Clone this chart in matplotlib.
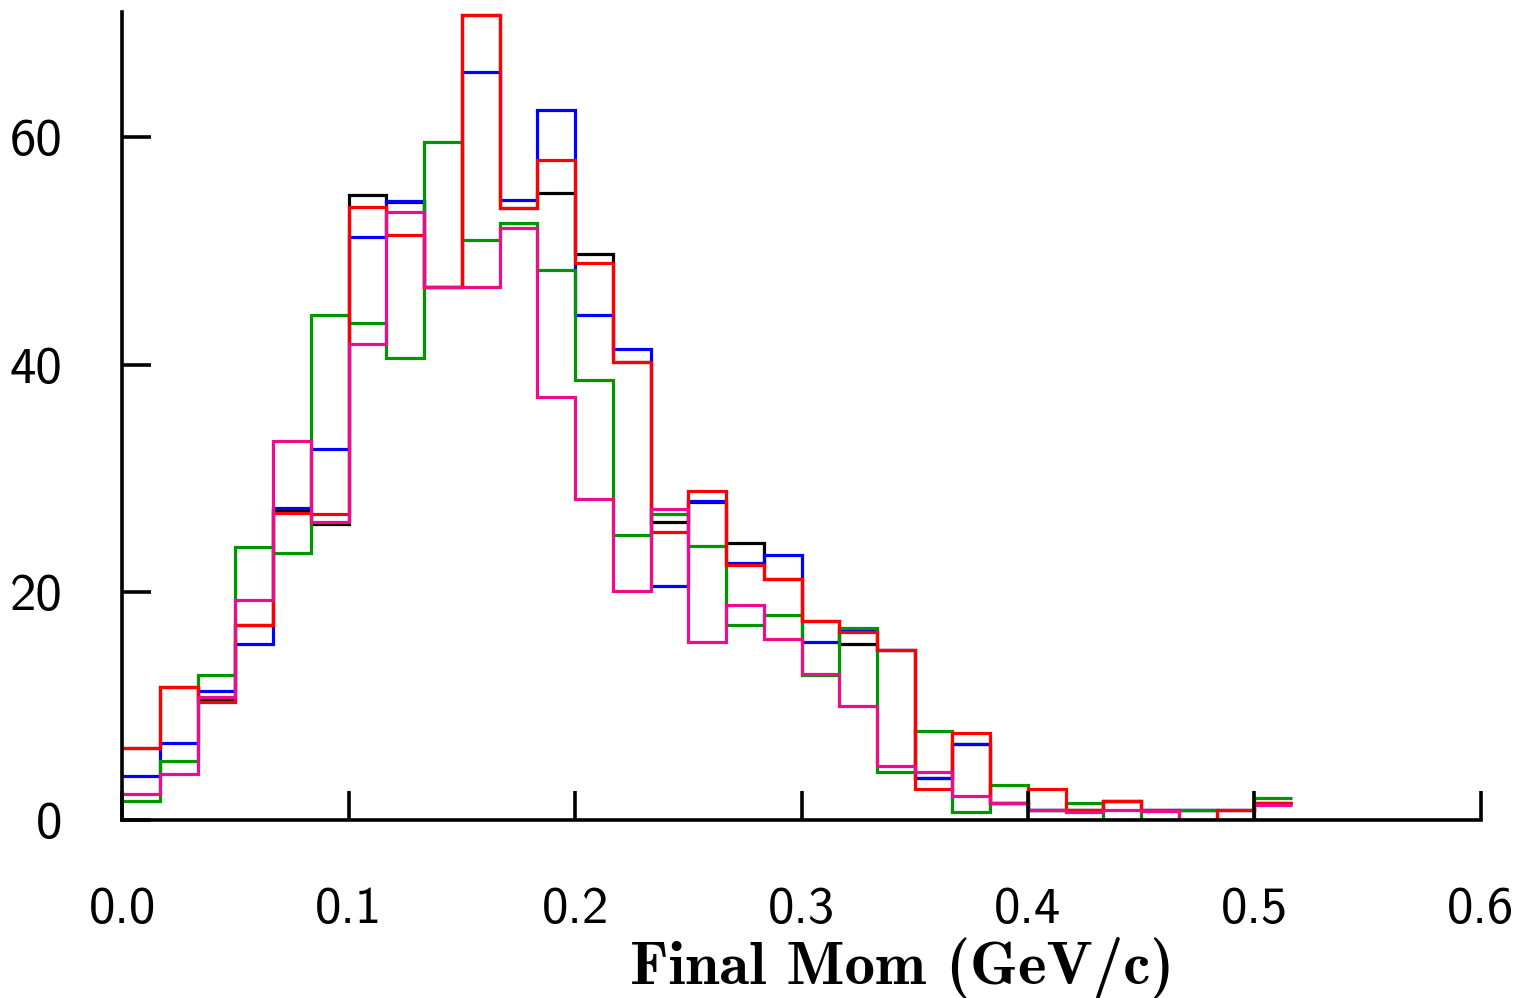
import os
import numpy as np
import matplotlib as mpl
mpl.use('agg')
import matplotlib.pyplot as plt
from matplotlib.font_manager import FontProperties

ttf_dir = os.path.join(mpl.get_data_path(), 'fonts', 'ttf')
sans_font = FontProperties(fname=os.path.join(ttf_dir, 'cmss10.ttf'), size=38)
bold_font = FontProperties(fname=os.path.join(ttf_dir, 'cmb10.ttf'), size=44)

# bins: 31 bins of width 1/60 GeV/c, starting at 0
n_bins = 31
bin_width = 1.0 / 60
edges = np.arange(n_bins + 1) * bin_width

black = [6.3, 11.7, 10.6, 17.1, 27.2, 26.0, 54.9, 54.3, 46.8, 70.7, 53.8,
         55.1, 49.7, 40.2, 26.2, 27.9, 24.3, 21.2, 17.5, 15.5, 14.9, 3.7,
         6.7, 1.5, 0.9, 0.9, 1.7, 0.9, 0.9, 0.9, 1.5]
blue = [3.9, 6.8, 11.3, 15.5, 27.4, 32.6, 51.2, 54.4, 46.8, 65.7, 54.5,
        62.4, 44.4, 41.4, 20.6, 28.0, 22.6, 23.3, 15.6, 16.6, 14.9, 3.7,
        6.7, 1.5, 0.9, 0.9, 1.7, 0.9, 0.9, 0.9, 1.5]
green = [1.7, 5.2, 12.7, 24.0, 23.5, 44.4, 43.7, 40.6, 59.6, 51.0, 52.5,
         48.3, 38.7, 25.0, 26.9, 24.1, 17.1, 18.0, 12.7, 16.9, 4.2, 7.8,
         0.7, 3.1, 0.9, 1.5, 0.0, 0.8, 0.9, 0.0, 1.9]
red = [6.3, 11.7, 10.4, 17.1, 27.0, 26.9, 53.9, 51.4, 46.8, 70.7, 53.8,
       58.0, 48.9, 40.2, 25.3, 28.9, 22.4, 21.2, 17.5, 16.5, 14.9, 2.7,
       7.6, 1.5, 2.7, 0.9, 1.7, 0.9, 0.0, 0.9, 1.5]
magenta = [2.3, 4.0, 10.8, 19.3, 33.3, 26.2, 41.8, 53.4, 46.8, 46.8, 52.0,
           37.2, 28.2, 20.1, 27.3, 15.6, 18.9, 15.9, 12.8, 10.0, 4.7, 4.2,
           2.1, 1.5, 0.9, 0.7, 0.9, 0.8, 0.0, 0.0, 1.3]

series = [black, blue, green, red, magenta]
colors = ['#000000', '#0000ff', '#009600', '#ff0000', '#ec0c8c']

xticks = [0.0, 0.1, 0.2, 0.3, 0.4, 0.5, 0.6]
yticks = [0, 20, 40, 60]

fig = plt.figure(figsize=(15.35, 9.98), dpi=100)
ax = fig.add_axes([0.0795, 0.1784, 0.8853, 0.8096])

for vals, c in zip(series, colors):
    ax.stairs(vals, edges, baseline=None, color=c, linewidth=2.3)

ax.set_xlim(0, 0.6)
ax.set_ylim(0, 71)

for s in ['top', 'right']:
    ax.spines[s].set_visible(False)
for s in ['left', 'bottom']:
    ax.spines[s].set_linewidth(2.6)

ax.set_xticks(xticks)
ax.set_xticklabels(['%.1f' % v for v in xticks], fontproperties=sans_font)
ax.set_yticks(yticks)
ax.set_yticklabels(['%d' % v for v in yticks], fontproperties=sans_font)
ax.tick_params(axis='both', direction='in', length=21, width=2.6)
ax.tick_params(axis='x', pad=48)
ax.tick_params(axis='y', pad=43)

ax.set_xlabel('Final Mom (GeV/c)', fontproperties=bold_font)
ax.xaxis.set_label_coords(0.574, -0.145)
ax.xaxis.label.set_va('top')

plt.savefig('out.png', dpi=100)
